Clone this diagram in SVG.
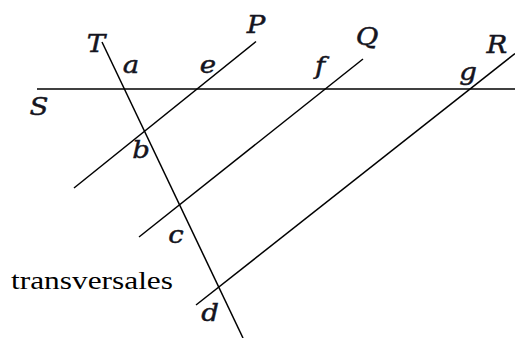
<svg xmlns="http://www.w3.org/2000/svg" width="515" height="338" viewBox="0 0 515 338">
<style>
.ln{stroke:#000;stroke-width:1.5;fill:none;stroke-linecap:butt}
.lb{font-family:"DejaVu Serif","Liberation Serif",serif;font-style:italic;font-size:24px;fill:#141420;stroke:#141420;stroke-width:0.45;text-anchor:middle}
.tx{font-family:"Liberation Serif","Times New Roman",serif;font-size:25px;fill:#000}
</style>
<rect width="515" height="338" fill="#fff"/>
<g id="connectors">
<line class="ln" x1="37" y1="89" x2="515" y2="89"/>
<line class="ln" x1="102" y1="42" x2="243" y2="338"/>
<line class="ln" x1="256" y1="41.5" x2="74" y2="188"/>
<line class="ln" x1="363" y1="59" x2="139" y2="237"/>
<line class="ln" x1="515" y1="53.5" x2="196" y2="305"/>
</g>
<g id="line-labels">
<text class="lb" transform="translate(39,115) scale(1.15,1)">S</text>
<text class="lb" transform="translate(96,52) scale(1.15,1)">T</text>
<text class="lb" transform="translate(256,33) scale(1.15,1)">P</text>
<text class="lb" transform="translate(367,45) scale(1.15,1)">Q</text>
<text class="lb" transform="translate(497,53) scale(1.15,1)">R</text>
</g>
<g id="point-labels">
<text class="lb" transform="translate(131,73) scale(1.15,1)">a</text>
<text class="lb" transform="translate(208,73) scale(1.15,1)">e</text>
<text class="lb" transform="translate(320,74) scale(1.15,1)">f</text>
<text class="lb" transform="translate(468,80) scale(1.15,1)">g</text>
<text class="lb" transform="translate(141,158) scale(1.15,1)">b</text>
<text class="lb" transform="translate(176,243) scale(1.15,1)">c</text>
<text class="lb" transform="translate(210,321) scale(1.15,1)">d</text>
</g>
<g id="caption">
<text class="tx" x="11" y="289" textLength="162" lengthAdjust="spacingAndGlyphs">transversales</text>
</g>
</svg>
